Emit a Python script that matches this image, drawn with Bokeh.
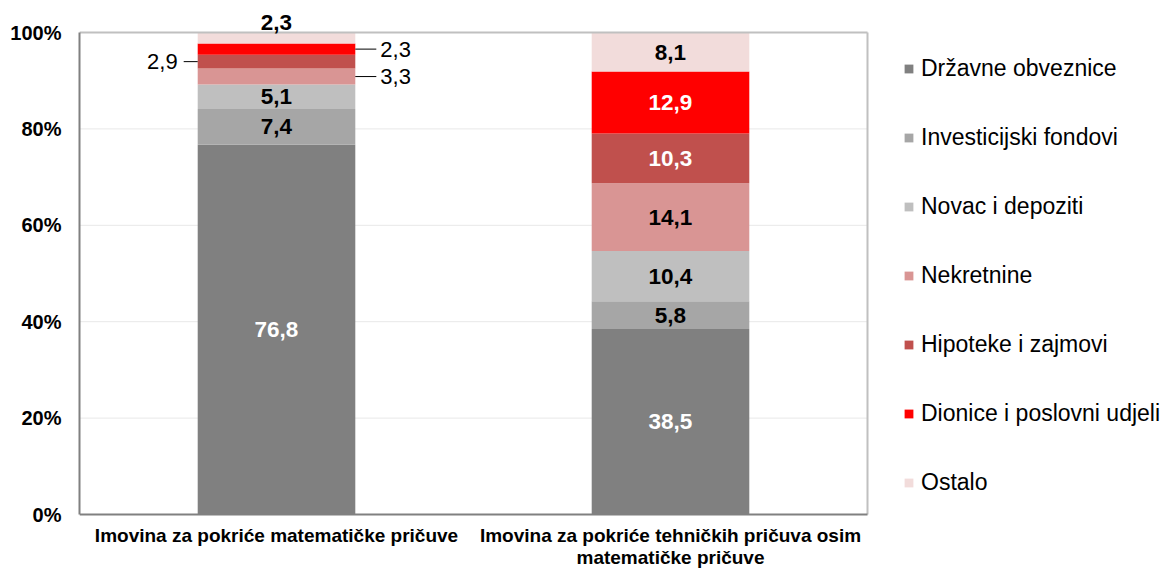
from bokeh.plotting import figure
from bokeh.models import ColumnDataSource, Range1d, FixedTicker, Legend, LegendItem, LabelSet
from bokeh.core.properties import value
from bokeh.embed import file_html
from bokeh.resources import INLINE

# ---------------- data ----------------
categories = ["Imovina za pokriće matematičke pričuve",
              "Imovina za pokriće tehničkih pričuva osim\nmatematičke pričuve"]
series = ["Državne obveznice", "Investicijski fondovi", "Novac i depoziti",
          "Nekretnine", "Hipoteke i zajmovi", "Dionice i poslovni udjeli", "Ostalo"]
drzavne_obveznice = [76.8, 38.5]
investicijski_fondovi = [7.4, 5.8]
novac_i_depoziti = [5.1, 10.4]
nekretnine = [3.3, 14.1]
hipoteke_i_zajmovi = [2.9, 10.3]
dionice_i_udjeli = [2.3, 12.9]
ostalo = [2.3, 8.1]
y_ticks = [0, 20, 40, 60, 80, 100]

values = [drzavne_obveznice, investicijski_fondovi, novac_i_depoziti, nekretnine,
          hipoteke_i_zajmovi, dionice_i_udjeli, ostalo]
colors = ["#808080", "#A6A6A6", "#BFBFBF", "#D99594", "#C0504D", "#FF0000", "#F2DCDB"]

# label placement / colour per bar (style only)
placement = [["in", "in", "in", "right", "left", "right", "above"],
             ["in"] * 7]
white = [[True, False, False, False, False, False, False],
         [True, False, False, False, True, True, False]]

FONT = "Liberation Sans"
W, H = 1162, 571
LEFT, PLOT_R, PLOT_T, PLOT_B = 79, 867, 32, 514       # pixel layout of the bar area
N = len(categories)
PX_X = (PLOT_R - LEFT) / N                             # px per x unit
PX_Y = (PLOT_B - PLOT_T) / (y_ticks[-1] - y_ticks[0])  # px per %
X_END = (W - LEFT) / PX_X
Y_START = -(H - PLOT_B) / PX_Y
Y_END = y_ticks[-1] + PLOT_T / PX_Y

BAR_W = 0.4
xs = [i + 0.5 for i in range(N)]

p = figure(width=W, height=H, output_backend="svg", toolbar_location=None,
           x_range=Range1d(0, X_END), y_range=Range1d(Y_START, Y_END),
           min_border_left=LEFT, min_border_right=0, min_border_top=0,
           min_border_bottom=0)
p.background_fill_color = "white"
p.border_fill_color = "white"
p.outline_line_color = None
p.xaxis.visible = False
p.xgrid.grid_line_color = None
p.ygrid.grid_line_color = None

# gridlines (dotted) inside the bar area
grid_y = y_ticks[1:-1]
p.segment(x0=[0] * len(grid_y), x1=[N] * len(grid_y), y0=grid_y, y1=grid_y,
          line_color="#D0D0D0", line_width=1, line_dash="1 1")

totals = [sum(v[i] for v in values) for i in range(N)]
bottoms = [0.0] * N
legend_items = []
lab = dict(x=[], y=[], text=[], color=[], style=[], align=[], size=[])
seg = dict(x0=[], x1=[], y=[])
for j, (name, vals, col) in enumerate(zip(series, values, colors)):
    tops = [bottoms[i] + vals[i] / totals[i] * 100 for i in range(N)]
    r = p.vbar(x=xs, width=BAR_W, bottom=list(bottoms), top=tops,
               fill_color=col, line_color=None)
    legend_items.append(LegendItem(label=name, renderers=[r]))
    for i in range(N):
        mid = (bottoms[i] + tops[i]) / 2
        txt = f"{vals[i]:.1f}".replace(".", ",")
        pos = placement[i][j]
        if pos == "in":
            lab["x"].append(xs[i]); lab["y"].append(mid); lab["align"].append("center")
            lab["style"].append("bold"); lab["size"].append("22.5px")
            lab["color"].append("white" if white[i][j] else "black")
        elif pos == "above":
            lab["x"].append(xs[i]); lab["y"].append(tops[i] + 10 / PX_Y); lab["align"].append("center")
            lab["style"].append("bold"); lab["color"].append("black"); lab["size"].append("22.5px")
        elif pos == "right":
            edge = xs[i] + BAR_W / 2
            seg["x0"].append(edge); seg["x1"].append(edge + 21 / PX_X); seg["y"].append(mid)
            lab["x"].append(edge + 25 / PX_X); lab["y"].append(mid); lab["align"].append("left")
            lab["style"].append("normal"); lab["color"].append("black"); lab["size"].append("22px")
        else:
            edge = xs[i] - BAR_W / 2
            seg["x0"].append(edge - 14 / PX_X); seg["x1"].append(edge); seg["y"].append(mid)
            lab["x"].append(edge - 20 / PX_X); lab["y"].append(mid); lab["align"].append("right")
            lab["style"].append("normal"); lab["color"].append("black"); lab["size"].append("22px")
        lab["text"].append(txt)
    bottoms = tops

# frame border (top and right) and baseline
p.segment(x0=[0, N], x1=[N, N], y0=[y_ticks[-1], y_ticks[0]],
          y1=[y_ticks[-1], y_ticks[-1]], line_color="#C0C0C0", line_width=2)
p.segment(x0=[0], x1=[N], y0=[y_ticks[0]], y1=[y_ticks[0]],
          line_color="#808080", line_width=2)

p.segment(x0="x0", x1="x1", y0="y", y1="y", source=ColumnDataSource(seg),
          line_color="black", line_width=1)

labels = LabelSet(x="x", y="y", text="text", source=ColumnDataSource(lab),
                  text_font=value(FONT), text_font_size="size", text_color="color",
                  text_font_style="style", text_align="align",
                  text_baseline="middle")
p.add_layout(labels)

# category labels under the bars (each line centred separately)
cat = dict(x=[], y=[], text=[])
for x, c in zip(xs, categories):
    for k, line in enumerate(c.split("\n")):
        cat["x"].append(x)
        cat["y"].append(y_ticks[0] - (10 + 22 * k) / PX_Y)
        cat["text"].append(line)
cat_labels = LabelSet(x="x", y="y", text="text", source=ColumnDataSource(cat),
                      text_font=value(FONT), text_font_size="19px",
                      text_font_style="bold", text_color="black",
                      text_align="center", text_baseline="top")
p.add_layout(cat_labels)

# y axis
p.yaxis.bounds = (y_ticks[0], y_ticks[-1])
p.yaxis.ticker = FixedTicker(ticks=y_ticks)
p.yaxis.major_label_overrides = {t: f"{t}%" for t in y_ticks}
p.yaxis.major_label_text_font = FONT
p.yaxis.major_label_text_font_style = "bold"
p.yaxis.major_label_text_font_size = "20px"
p.yaxis.major_label_text_color = "black"
p.yaxis.major_tick_line_color = None
p.yaxis.minor_tick_line_color = None
p.yaxis.major_tick_out = 0
p.yaxis.major_tick_in = 0
p.yaxis.minor_tick_out = 0
p.yaxis.major_label_standoff = 18
p.yaxis.axis_line_color = "#808080"
p.yaxis.axis_line_width = 2

legend = Legend(items=legend_items, location=(903 - LEFT, H - 496), orientation="vertical",
                label_text_font=FONT, label_text_font_size="23px",
                label_text_color="black", glyph_width=11, glyph_height=11,
                label_height=28, spacing=41, label_standoff=7, padding=0,
                margin=0, border_line_color=None, background_fill_alpha=0)
p.add_layout(legend)

open("out.html", "w").write(file_html(p, INLINE))
